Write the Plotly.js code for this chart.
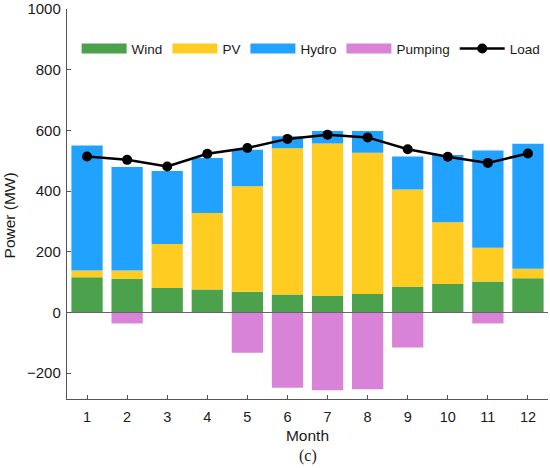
<!DOCTYPE html>
<html>
<head>
<meta charset="utf-8">
<script src="https://cdn.plot.ly/plotly-3.0.1.min.js"></script>
<style>html,body{margin:0;padding:0;background:#fff;}#chart{width:550px;height:468px;}</style>
</head>
<body>
<div id="chart"></div>
<script>
var months = [1,2,3,4,5,6,7,8,9,10,11,12];
var wind    = [116,111,81,76,68,59,54,61,84,94,102,113];
var pv      = [22,27,145,252,348,482,503,465,321,203,111,31];
var hydro   = [412,341,240,181,120,40,41,72,109,222,321,412];
var pumping = [0,-36,0,0,-133,-248,-256,-253,-115,0,-36,0];
var load    = [514,503,481,523,542,572,586,577,538,513,493,524];
var yTicks  = [-200,0,200,400,600,800,1000];

var cWind='#4ca24c', cPV='#ffcc22', cHydro='#22a2ff', cPump='#d883d8';
var FONT = 'Arial, "Liberation Sans", Helvetica, sans-serif';

function barTrace(name, vals, color){
  return {type:'bar', name:name, x:months, y:vals, width:0.78,
          marker:{color:color, line:{width:0}}, legendgroup:name, showlegend:false,
          hoverinfo:'x+y+name'};
}
function legendTrace(name, color){
  return {type:'scatter', mode:'lines', name:name, x:[null], y:[null],
          line:{color:color, width:12}, legendgroup:name, showlegend:true, hoverinfo:'skip'};
}

var data = [
  barTrace('Wind', wind, cWind),
  barTrace('PV', pv, cPV),
  barTrace('Hydro', hydro, cHydro),
  barTrace('Pumping', pumping, cPump),
  legendTrace('Wind', cWind),
  legendTrace('PV', cPV),
  legendTrace('Hydro', cHydro),
  legendTrace('Pumping', cPump),
  {type:'scatter', mode:'lines+markers', name:'Load', x:months, y:load,
   line:{color:'#000', width:2.5}, marker:{color:'#000', size:10}}
];

var layout = {
  width:550, height:468,
  margin:{l:67, r:2, t:9, b:69, pad:0},
  paper_bgcolor:'#fff', plot_bgcolor:'#fff',
  font:{family:FONT, color:'#1a1a1a', size:15},
  barmode:'relative', bargap:0.22,
  showlegend:true,
  legend:{orientation:'h', x:0.02, xanchor:'left', y:0.898, yanchor:'middle',
          font:{family:FONT, size:13.5, color:'#1a1a1a'}, itemwidth:45,
          bgcolor:'rgba(0,0,0,0)', traceorder:'normal', itemclick:false},
  xaxis:{range:[0.5,12.5], tickvals:months, ticktext:months.map(String),
         ticks:'inside', ticklen:4, tickcolor:'#555', tickwidth:1,
         showline:true, linecolor:'#555', linewidth:1.2, mirror:false,
         showgrid:false, zeroline:false, tickfont:{size:14.5, family:FONT, color:'#1a1a1a'},
         ticklabelstandoff:4,
         title:{text:'Month', font:{size:15.5, family:FONT, color:'#1a1a1a'}, standoff:6}},
  yaxis:{range:[-285,1000], tickvals:yTicks, ticktext:yTicks.map(function(v){return v<0?'\u2212'+Math.abs(v):String(v);}),
         ticks:'inside', ticklen:4, tickcolor:'#555', tickwidth:1,
         showline:true, linecolor:'#555', linewidth:1.2,
         showgrid:false, zeroline:true, zerolinecolor:'#666', zerolinewidth:1.2,
         zerolinelayer:'above traces',
         tickfont:{size:15, family:FONT, color:'#1a1a1a'}, ticklabelstandoff:2},
  annotations:[
    {text:'Power (MW)', textangle:-90, xref:'paper', yref:'paper',
     x:-0.119, y:0.47, xanchor:'center', yanchor:'middle', showarrow:false,
     font:{size:15.5, family:FONT, color:'#1a1a1a'}},
    {text:'(c)', xref:'paper', yref:'paper', x:0.5, y:-0.145, xanchor:'center', yanchor:'middle',
     showarrow:false, font:{size:16, family:'"Liberation Serif", "Times New Roman", serif', color:'#1a1a1a'}}
  ]
};

Plotly.newPlot('chart', data, layout, {displayModeBar:false, staticPlot:true});
</script>
</body>
</html>
